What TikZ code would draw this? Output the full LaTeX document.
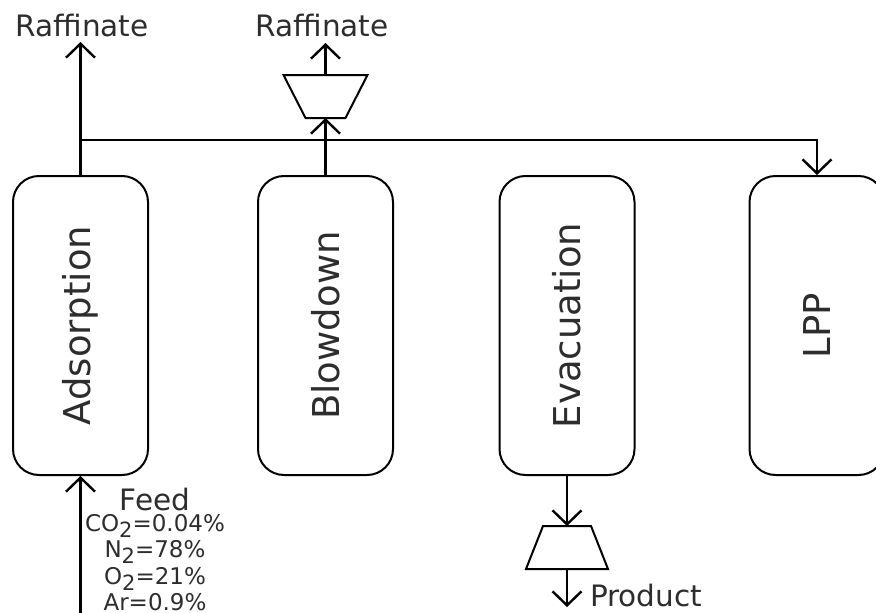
\documentclass[tikz,border=0pt]{standalone}
\usepackage{fontspec}
\setmainfont{DejaVu Sans}
\usetikzlibrary{arrows.meta}
\definecolor{schrift}{RGB}{45,45,45}
\newcommand{\tiefzahl}[1]{\raisebox{-0.27em}{\fontsize{21}{21}\selectfont #1}}

\begin{document}
\begin{tikzpicture}[x=1pt, y=-1pt, line width=2pt,
	stepbox/.style={draw, rounded corners=26pt, minimum width=135pt, minimum height=299pt, inner sep=0pt, text=schrift, font=\fontsize{37}{37}\selectfont},
	strom/.style={line width=2.4pt, -{Straight Barb[length=14pt, width=29pt]}},
	beschr/.style={text=schrift, font=\fontsize{29.5}{29.5}\selectfont, inner sep=0pt}]

	\useasboundingbox (0,0) rectangle (876,613);

	% die vier Schritte
	\foreach \name/\schritt/\x in {ads/Adsorption/80.5, blow/Blowdown/325.5, evac/Evacuation/567, lpp/LPP/817}{
		\node[stepbox] (\name) at (\x,325.5) {\rotatebox{90}{\schritt}};
	}

	% Pumpen
	\draw[line join=miter] (283.5,75) -- (367.5,75) -- (345.5,118) -- (305.5,118) -- cycle;
	\draw[line join=miter] (543,526) -- (591,526) -- (608,569) -- (526,569) -- cycle;
	\coordinate (pump1oben) at (325.5,75);
	\coordinate (pump1unten) at (325.5,118);
	\coordinate (pump2oben) at (567,526);
	\coordinate (pump2unten) at (567,569);

	\coordinate (raf1) at (80.5,42);
	\coordinate (raf2) at (325.5,43);
	\coordinate (abzweig) at (80.5,140);
	\coordinate (zulauf) at (80.5,613);
	\coordinate (prod) at (567,607);

	\draw[strom] (ads.north) -- (raf1);
	\draw[strom] (abzweig) -| (lpp.north);
	\draw[strom] (blow.north) -- (pump1unten);
	\draw[strom] (pump1oben) -- (raf2);
	\draw[strom] (zulauf) -- (ads.south);
	\draw[strom] (evac.south) -- (pump2oben);
	\draw[strom] (pump2unten) -- (prod);

	% Beschriftung
	\node[beschr, anchor=base] (raf1lbl) at (82,36) {Raffinate};
	\node[beschr, anchor=base] (raf2lbl) at (322,36) {Raffinate};
	\node[beschr, anchor=base west] (prodlbl) at (589,606) {Product};
	\node[beschr, anchor=base] (feedlbl) at (155,510) {Feed};
	\node[beschr, anchor=north, align=center, font=\fontsize{23}{26.5}\selectfont] (zusammen) at (155,513)
		{CO\tiefzahl{2}=0.04\%\\N\tiefzahl{2}=78\%\\O\tiefzahl{2}=21\%\\Ar=0.9\%};

\end{tikzpicture}
\end{document}
